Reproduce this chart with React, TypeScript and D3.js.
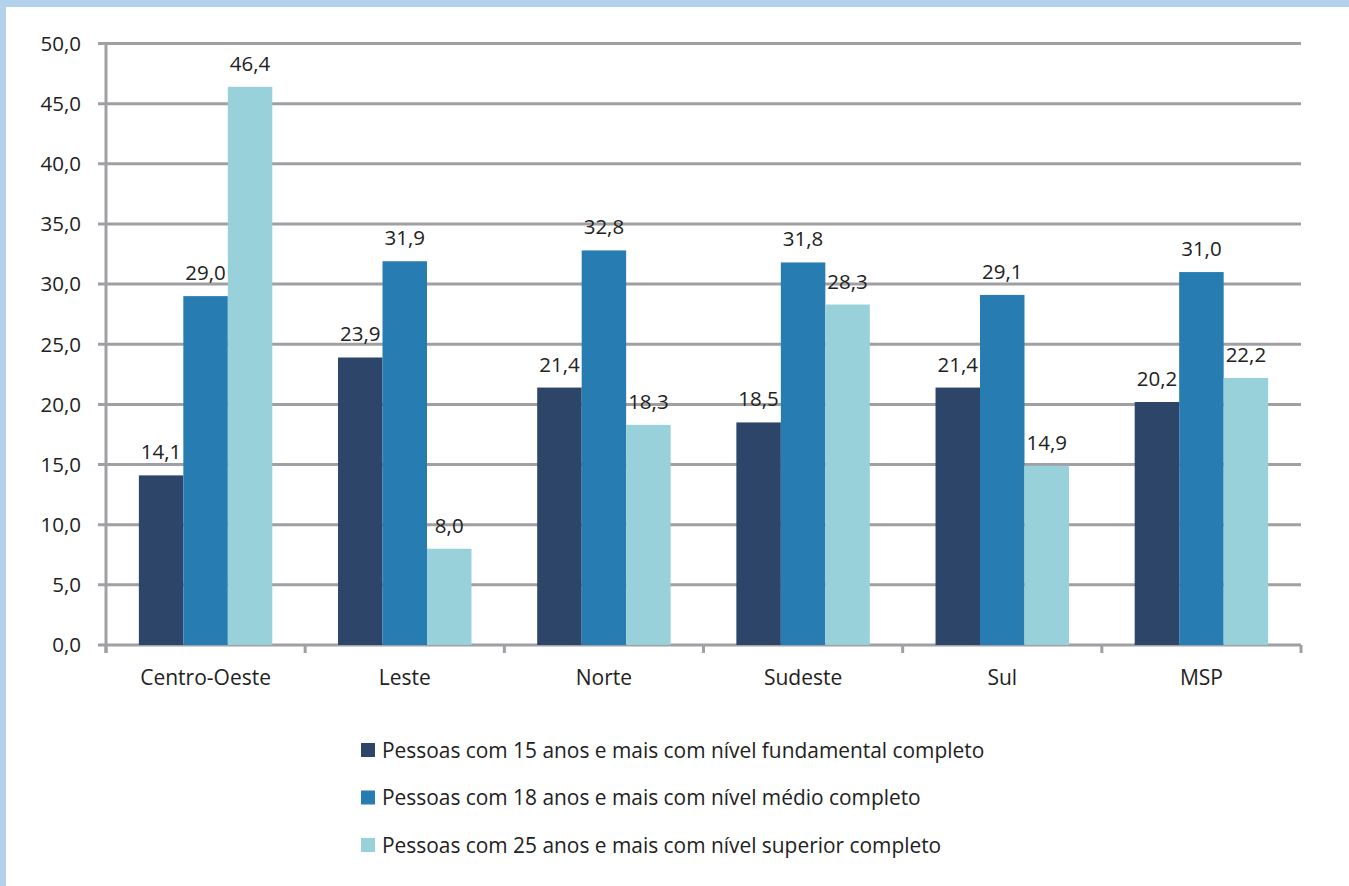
import React from "react";
import * as d3 from "d3";

const categories = ["Centro-Oeste", "Leste", "Norte", "Sudeste", "Sul", "MSP"];
const fundamental = [14.1, 23.9, 21.4, 18.5, 21.4, 20.2];
const medio = [29.0, 31.9, 32.8, 31.8, 29.1, 31.0];
const superior = [46.4, 8.0, 18.3, 28.3, 14.9, 22.2];
const seriesNames = [
  "Pessoas com 15 anos e mais com nível fundamental completo",
  "Pessoas com 18 anos e mais com nível médio completo",
  "Pessoas com 25 anos e mais com nível superior completo",
];
const yTicks = [0, 5, 10, 15, 20, 25, 30, 35, 40, 45, 50];
const colors = ["#2d4569", "#277cb2", "#99d1da"];

const W = 1349;
const H = 886;
const FONT = "'Open Sans', sans-serif";

export default function App() {
  const left = 106, right = 1301, top = 43.5, bottom = 645;
  const x = d3.scaleBand<string>().domain(categories).range([left, right]).paddingInner(0).paddingOuter(0);
  const y = d3.scaleLinear().domain([0, 50]).range([bottom, top]);
  const groupPad = 0.165;
  const x1 = d3
    .scaleBand<number>()
    .domain([0, 1, 2])
    .range([x.bandwidth() * groupPad, x.bandwidth() * (1 - groupPad)])
    .padding(0);
  const series = [fundamental, medio, superior];
  const fmt = (v: number) => v.toFixed(1).replace(".", ",");
  const grid = "#a0a0a4";
  const catEdges = categories.map((c) => x(c) as number).concat([right]);

  return (
    <svg width={W} height={H} style={{ position: "absolute", left: 0, top: 0, background: "#fff" }}>
      <rect x={0} y={0} width={W} height={7} fill="#b4d1ec" />
      <rect x={0} y={0} width={6} height={H} fill="#b4d1ec" />
      {yTicks.map((t) => (
        <g key={t}>
          <line x1={98} x2={right} y1={y(t)} y2={y(t)} stroke={grid} strokeWidth={3} />
          <text x={81} y={y(t)} dy="0.36em" textAnchor="end" fontFamily={FONT} fontSize={20.5} fill="#222">
            {fmt(t)}
          </text>
        </g>
      ))}
      <line x1={left} x2={left} y1={top - 1.5} y2={bottom + 8} stroke={grid} strokeWidth={3} />
      {catEdges.map((e, i) => (
        <line key={i} x1={e} x2={e} y1={bottom} y2={bottom + 8} stroke={grid} strokeWidth={3} />
      ))}
      {categories.map((c, ci) => (
        <g key={c} transform={`translate(${x(c)},0)`}>
          {series.map((s, si) => (
            <rect
              key={si}
              x={x1(si) as number}
              y={y(s[ci])}
              width={x1.bandwidth()}
              height={bottom - y(s[ci])}
              fill={colors[si]}
            />
          ))}
          {series.map((s, si) => (
            <text
              key={"l" + si}
              x={(x1(si) as number) + x1.bandwidth() / 2}
              y={y(s[ci]) - 16}
              textAnchor="middle"
              fontFamily={FONT}
              fontSize={20.5}
              fill="#222"
            >
              {fmt(s[ci])}
            </text>
          ))}
          <text x={x.bandwidth() / 2} y={685} textAnchor="middle" fontFamily={FONT} fontSize={21} fill="#222">
            {c}
          </text>
        </g>
      ))}
      {seriesNames.map((n, i) => (
        <g key={n} transform={`translate(361,${750 + i * 47.5})`}>
          <rect x={0} y={-7} width={14} height={14} fill={colors[i]} />
          <text x={21} y={0} dy="0.36em" fontFamily={FONT} fontSize={20.9} fill="#222">
            {n}
          </text>
        </g>
      ))}
    </svg>
  );
}
